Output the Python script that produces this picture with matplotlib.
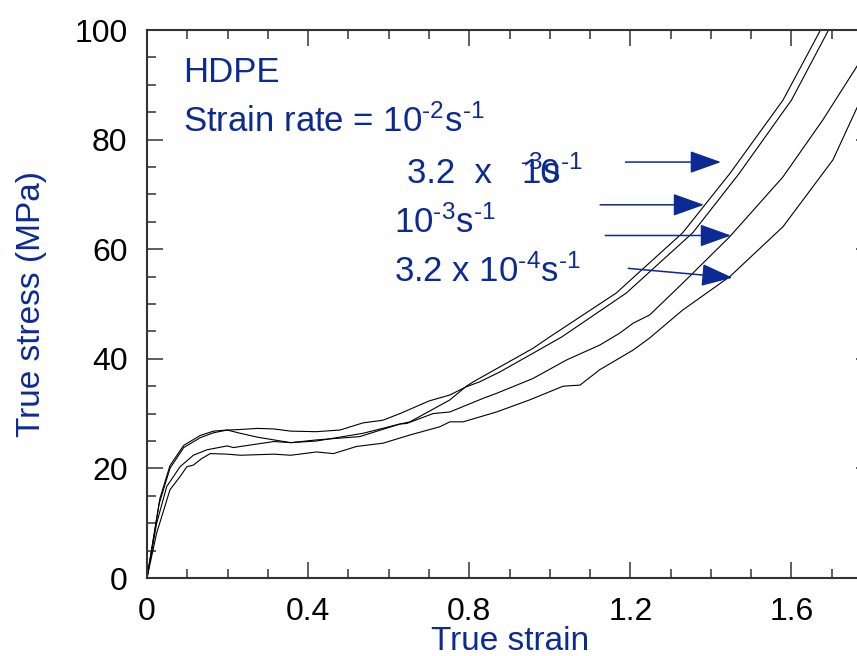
import matplotlib
matplotlib.use('Agg')
import matplotlib.pyplot as plt
from matplotlib.ticker import MultipleLocator, FuncFormatter

plt.rcParams['font.family'] = ['Liberation Sans', 'DejaVu Sans']
plt.rcParams['mathtext.fontset'] = 'custom'
plt.rcParams['mathtext.rm'] = 'Liberation Sans'
plt.rcParams['mathtext.it'] = 'Liberation Sans:italic'
plt.rcParams['mathtext.bf'] = 'Liberation Sans:bold'

BLUE = '#0b2a94'

strain_a = [0, 0.032, 0.057, 0.091, 0.132, 0.165, 0.199, 0.232, 0.274, 0.315, 0.357, 0.421,
            0.536, 0.628, 0.653, 0.752, 0.793, 0.81, 0.958, 1.0, 1.165, 1.33, 1.447, 1.579, 1.67, 1.68]
stress_a = [0, 14.5, 20.5, 24.2, 26.0, 26.8, 27.0, 26.4, 25.7, 25.2, 24.7, 25.0,
            26.4, 28.1, 28.5, 32.5, 35.0, 35.8, 41.9, 44.0, 52.0, 63.0, 73.8, 87.2, 99.7, 101.5]

strain_b = [0, 0.03, 0.057, 0.091, 0.132, 0.165, 0.199, 0.232, 0.274, 0.315, 0.357, 0.42,
            0.479, 0.536, 0.586, 0.628, 0.70, 0.752, 0.793, 0.826, 0.876, 0.958, 1.03, 1.19,
            1.355, 1.47, 1.60, 1.69, 1.70]
stress_b = [0, 13.5, 20.0, 23.8, 25.6, 26.5, 27.0, 27.1, 27.3, 27.2, 26.8, 26.7,
            27.0, 28.3, 28.8, 30.0, 32.3, 33.4, 34.9, 35.8, 37.6, 41.0, 44.0, 52.0,
            63.0, 73.8, 87.2, 99.7, 101.5]

strain_c = [0, 0.024, 0.049, 0.082, 0.115, 0.149, 0.199, 0.215, 0.232, 0.315, 0.357, 0.421,
            0.528, 0.628, 0.645, 0.71, 0.752, 0.835, 0.868, 0.958, 1.042, 1.124, 1.174,
            1.207, 1.248, 1.33, 1.447, 1.579, 1.678, 1.762, 1.80]
stress_c = [0, 10.0, 16.7, 20.3, 22.4, 23.4, 24.1, 23.8, 24.0, 24.9, 24.7, 25.2,
            25.8, 28.1, 28.2, 30.0, 30.3, 32.8, 33.7, 36.4, 39.8, 42.5, 44.7,
            46.5, 48.0, 53.8, 62.3, 73.2, 83.6, 93.3, 98.0]

strain_d = [0, 0.024, 0.057, 0.082, 0.099, 0.115, 0.136, 0.157, 0.199, 0.232, 0.315, 0.357,
            0.421, 0.463, 0.52, 0.586, 0.653, 0.727, 0.752, 0.785, 0.868, 0.95, 1.0, 1.033,
            1.075, 1.124, 1.207, 1.248, 1.33, 1.447, 1.579, 1.703, 1.762, 1.80]
stress_d = [0, 8.2, 16.1, 18.5, 20.3, 20.6, 21.8, 22.7, 22.6, 22.4, 22.6, 22.4,
            23.0, 22.7, 24.0, 24.6, 26.1, 27.6, 28.5, 28.5, 30.3, 32.5, 34.0, 35.0,
            35.2, 38.0, 41.6, 43.8, 48.9, 55.0, 64.1, 76.3, 85.7, 91.0]

fig = plt.figure(figsize=(8.57, 6.56), dpi=100)
ax = fig.add_axes([147/857, 78/656, 725/857, 548/656])

for x, y in [(strain_a, stress_a), (strain_b, stress_b), (strain_c, stress_c), (strain_d, stress_d)]:
    ax.plot(x, y, color='black', lw=0.8)

ax.set_xlim(0, 1.8)
ax.set_ylim(0, 100)
ax.xaxis.set_major_locator(MultipleLocator(0.4))
ax.xaxis.set_minor_locator(MultipleLocator(0.1))
ax.yaxis.set_major_locator(MultipleLocator(20))
ax.yaxis.set_minor_locator(MultipleLocator(5))
ax.xaxis.set_major_formatter(FuncFormatter(lambda v, p: '%g' % round(v, 2)))

ax.tick_params(which='both', direction='in', top=True, right=True, colors='#333333',
               labelcolor='black', labelsize=23, width=1.1)
ax.tick_params(which='major', length=11.5, pad=14)
ax.tick_params(which='minor', length=6.5)
for sp in ax.spines.values():
    sp.set_color('#333333')
    sp.set_linewidth(1.5)

fig.text(31.5/857, 1 - 304/656, 'True stress (MPa)', rotation=90, ha='center', va='center',
         color=BLUE, fontsize=24)
fig.text(510/857, 1 - 650/656, 'True strain', ha='center', va='baseline',
         color=BLUE, fontsize=24)

ax.text(0.089, 90.5, 'HDPE', color=BLUE, fontsize=25, va='baseline')
ax.text(0.089, 81.4, r'Strain rate = 10$^{\text{-2}}$s$^{\text{-1}}$', color=BLUE, fontsize=25, va='baseline')
ax.text(0.645, 72.1, '3.2  x', color=BLUE, fontsize=25, va='baseline')
ax.text(0.93, 72.1, '10', color=BLUE, fontsize=25, va='baseline')
ax.text(0.926, 72.1, r'$^{\text{-3}}$s$^{\text{-1}}$', color=BLUE, fontsize=25, va='baseline')
ax.text(0.614, 63.0, r'10$^{\text{-3}}$s$^{\text{-1}}$', color=BLUE, fontsize=25, va='baseline')
ax.text(0.614, 54.0, r'3.2 x 10$^{\text{-4}}$s$^{\text{-1}}$', color=BLUE, fontsize=25, va='baseline')

arrows = [((1.188, 75.9), (1.425, 75.9)),
          ((1.125, 68.1), (1.383, 68.1)),
          ((1.138, 62.5), (1.450, 62.5)),
          ((1.195, 56.5), (1.454, 54.8))]
for tail, tip in arrows:
    ax.annotate('', xy=tip, xytext=tail,
                arrowprops=dict(arrowstyle='-|>,head_length=1.4,head_width=0.5',
                                mutation_scale=14, lw=1.1, color=BLUE,
                                shrinkA=0, shrinkB=0))

fig.savefig('out.png', dpi=100)
